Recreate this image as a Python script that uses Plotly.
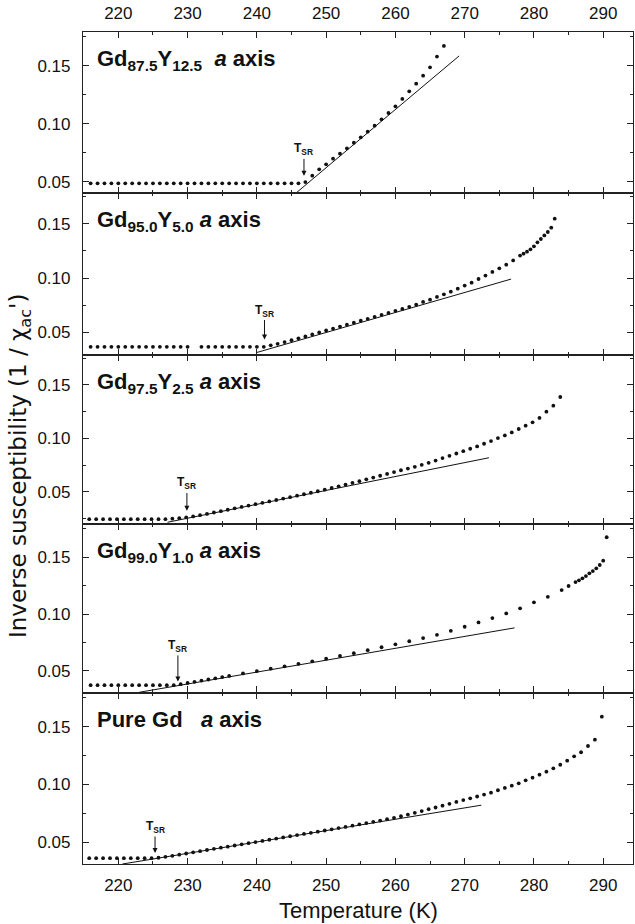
import plotly.graph_objects as go

# ---------------- data ----------------
panel_labels = [
    "<b>Gd<sub>87.5</sub>Y<sub>12.5</sub>\u00a0\u00a0<i>a</i> axis</b>",
    "<b>Gd<sub>95.0</sub>Y<sub>5.0</sub> <i>a</i> axis</b>",
    "<b>Gd<sub>97.5</sub>Y<sub>2.5</sub> <i>a</i> axis</b>",
    "<b>Gd<sub>99.0</sub>Y<sub>1.0</sub> <i>a</i> axis</b>",
    "<b>Pure Gd\u00a0\u00a0\u00a0<i>a</i> axis</b>",
]

# Gd87.5Y12.5
temp_p1 = [216, 217, 218, 219, 220, 221, 222, 223, 224, 225, 226, 227, 228, 229, 230,
           231, 232, 233, 234, 235, 236, 237, 238, 239, 240, 241, 242, 243, 244, 245, 246,
           247, 248, 249, 250, 251, 252, 253, 254, 255, 256, 257, 258, 259, 260, 261, 262,
           263, 264, 265, 266, 267]
chi_p1 = [0.0486, 0.0486, 0.0486, 0.0486, 0.0486, 0.0486, 0.0486, 0.0486, 0.0486, 0.0486,
          0.0486, 0.0486, 0.0486, 0.0486, 0.0486, 0.0486, 0.0486, 0.0486, 0.0486, 0.0486,
          0.0486, 0.0486, 0.0486, 0.0486, 0.0486, 0.0486, 0.0486, 0.0486, 0.0486, 0.0486,
          0.0486,
          0.0497, 0.0552, 0.0607, 0.0650, 0.0699, 0.0742, 0.0788, 0.0836, 0.0883, 0.0931,
          0.0983, 0.1038, 0.1092, 0.1150, 0.1213, 0.1279, 0.1345, 0.1414, 0.1486, 0.1578,
          0.1670]
fit_t_p1 = [245.6, 269.2]
fit_chi_p1 = [0.0400, 0.1584]

# Gd95.0Y5.0
temp_p2 = [216, 217, 218, 219, 220, 221, 222, 223, 224, 225, 226, 227, 228, 229, 230,
           232, 233, 234, 235, 236, 237, 238, 239, 240, 241,
           242, 243, 244, 245, 246, 247, 248, 249, 250, 251, 252, 253, 254, 255, 256, 257,
           258, 259, 260, 261, 262, 263, 264, 265, 266, 267, 268, 269, 270, 271, 272, 273,
           274, 275, 276, 277, 278, 278.5, 279, 279.5, 280, 280.5, 281, 281.5, 282, 282.5, 283]
chi_p2 = [0.0367, 0.0367, 0.0367, 0.0367, 0.0367, 0.0367, 0.0367, 0.0367, 0.0367, 0.0367,
          0.0367, 0.0367, 0.0367, 0.0367, 0.0367,
          0.0367, 0.0367, 0.0367, 0.0367, 0.0367, 0.0367, 0.0367, 0.0367, 0.0367, 0.0367,
          0.0381, 0.0395, 0.0411, 0.0428, 0.0445, 0.0463, 0.0481, 0.0499, 0.0517, 0.0535,
          0.0553, 0.0571, 0.0589, 0.0607, 0.0625, 0.0643, 0.0661, 0.0679, 0.0698, 0.0716,
          0.0735, 0.0755, 0.0780, 0.0801, 0.0826, 0.0850, 0.0874, 0.0902, 0.0930, 0.0957,
          0.0991, 0.1022, 0.1056, 0.1089, 0.1123, 0.1162, 0.1206, 0.1224, 0.1242, 0.1264,
          0.1291, 0.1328, 0.1359, 0.1392, 0.1423, 0.1463, 0.1546]
fit_t_p2 = [240.0, 276.7]
fit_chi_p2 = [0.0315, 0.0990]

# Gd97.5Y2.5
temp_p3 = [215.8, 216.8, 217.8, 218.8, 219.8, 220.8, 221.8, 222.8, 223.8, 224.8, 225.8,
           226.8, 227.8, 228.8, 229.8, 230.8, 231.8, 232.8, 233.8, 234.8, 235.8, 236.8,
           237.8, 238.8, 239.8, 240.8, 241.8, 242.8, 243.8, 244.8, 245.8, 246.8, 247.8,
           248.8, 249.8, 250.8, 251.8, 252.8, 253.8, 254.8, 255.8, 256.8, 257.8, 258.8,
           259.8, 260.8, 261.8, 262.8, 263.8, 264.8, 265.8, 266.8, 267.8, 268.8, 269.8,
           270.8, 271.8, 272.8, 273.8, 274.8, 275.8, 276.8, 277.8, 278.8, 279.8, 280.8,
           281.8, 282.8, 283.8]
chi_p3 = [0.0245, 0.0245, 0.0245, 0.0245, 0.0245, 0.0245, 0.0245, 0.0245, 0.0245, 0.0245,
          0.0245, 0.0245,
          0.0249, 0.0254, 0.0261, 0.0270, 0.0282, 0.0294, 0.0307, 0.0320, 0.0333, 0.0346,
          0.0359, 0.0372, 0.0385, 0.0398, 0.0411, 0.0424, 0.0437, 0.0450, 0.0464, 0.0478,
          0.0492, 0.0506, 0.0521, 0.0536, 0.0552, 0.0568, 0.0584, 0.0600, 0.0617, 0.0634,
          0.0651, 0.0668, 0.0685, 0.0702, 0.0718, 0.0734, 0.0753, 0.0772, 0.0793, 0.0816,
          0.0837, 0.0859, 0.0881, 0.0903, 0.0925, 0.0950, 0.0975, 0.1003, 0.1028, 0.1056,
          0.1088, 0.1119, 0.1150, 0.1191, 0.1250, 0.1306, 0.1387]
fit_t_p3 = [227.1, 273.5]
fit_chi_p3 = [0.0216, 0.0819]

# Gd99.0Y1.0
temp_p4 = [216, 217, 218, 219, 220, 221, 222, 223, 224, 225, 226, 227, 228,
           229, 230, 231, 232, 233, 234, 235, 236,
           238, 240, 242, 244, 246, 248, 250, 252, 254, 256, 258, 260, 262, 264, 266, 268,
           270, 272, 274, 276, 278, 280, 282, 284,
           285, 286, 286.5, 287, 287.5, 288, 288.5, 289, 289.5, 290, 290.5]
chi_p4 = [0.0373, 0.0373, 0.0373, 0.0373, 0.0373, 0.0373, 0.0373, 0.0373, 0.0373, 0.0373,
          0.0373, 0.0373, 0.0373,
          0.0382, 0.0392, 0.0402, 0.0413, 0.0423, 0.0433, 0.0444, 0.0454,
          0.0476, 0.0497, 0.0518, 0.0539, 0.0561, 0.0583, 0.0606, 0.0630, 0.0655, 0.0681,
          0.0707, 0.0733, 0.0760, 0.0788, 0.0817, 0.0852, 0.0888, 0.0926, 0.0964, 0.1005,
          0.1050, 0.1103, 0.1152, 0.1211,
          0.1247, 0.1282, 0.1297, 0.1315, 0.1335, 0.1359, 0.1379, 0.1403, 0.1432, 0.1470,
          0.1677]
fit_t_p4 = [223.0, 277.2]
fit_chi_p4 = [0.0310, 0.0878]

# Pure Gd
temp_p5 = [215.8, 216.8, 217.8, 218.8, 219.8, 220.8, 221.8, 222.8, 223.8, 224.8, 225.8,
           226.8, 227.8, 228.8, 229.8, 230.8, 231.8, 232.8, 233.8, 234.8, 235.8, 236.8,
           237.8, 238.8, 239.8, 240.8, 241.8, 242.8, 243.8, 244.8, 245.8, 246.8, 247.8,
           248.8, 249.8, 250.8, 251.8, 252.8, 253.8, 254.8, 255.8, 256.8, 257.8, 258.8,
           259.8, 260.8, 261.8, 262.8, 263.8, 264.8, 265.8, 266.8, 267.8, 268.8, 269.8,
           270.8, 271.8, 272.8, 273.8, 274.8, 275.8, 276.8, 277.8, 278.8, 279.8, 280.8,
           281.8, 282.8, 283.8, 284.8, 285.8, 286.8, 287.8, 288.8, 289.8]
chi_p5 = [0.0362, 0.0362, 0.0362, 0.0362, 0.0362, 0.0362, 0.0362, 0.0362, 0.0362, 0.0362,
          0.0366, 0.0374, 0.0383, 0.0393, 0.0403, 0.0413, 0.0423, 0.0433, 0.0443, 0.0453,
          0.0462, 0.0472, 0.0482, 0.0492, 0.0502, 0.0512, 0.0522, 0.0532, 0.0542, 0.0552,
          0.0562, 0.0572, 0.0582, 0.0592, 0.0602, 0.0612, 0.0623, 0.0633, 0.0644, 0.0655,
          0.0666, 0.0677, 0.0688, 0.0700, 0.0712, 0.0725, 0.0740, 0.0755, 0.0770, 0.0786,
          0.0801, 0.0817, 0.0833, 0.0849, 0.0865, 0.0880, 0.0896, 0.0913, 0.0929, 0.0950,
          0.0970, 0.0990, 0.1010, 0.1036, 0.1059, 0.1085, 0.1111, 0.1140, 0.1171, 0.1206,
          0.1244, 0.1279, 0.1333, 0.1388, 0.1587]
fit_t_p5 = [220.6, 272.4]
fit_chi_p5 = [0.0312, 0.0821]

tsr_temp = [246.8, 241.1, 229.9, 228.6, 225.3]
tsr_chi = [0.0486, 0.0367, 0.0258, 0.0378, 0.0364]

x_ticks = [220, 230, 240, 250, 260, 270, 280, 290]
x_minor = [225, 235, 245, 255, 265, 275, 285]
y_ticks = [0.05, 0.10, 0.15]
y_minor = [0.025, 0.075, 0.125, 0.175]

# ---------------- layout settings ----------------
FONT = "Liberation Sans, Arial, Helvetica, sans-serif"
YFONT = "DejaVu Sans, Liberation Sans, sans-serif"
x_range = [214.9, 294.3]
y_ranges = [[0.0403, 0.1790], [0.0292, 0.1782], [0.0200, 0.1780],
            [0.0308, 0.1794], [0.0312, 0.1796]]
y_domains = [[0.8065, 1.0], [0.6118, 0.8065], [0.4087, 0.6118],
             [0.2061, 0.4087], [0.0, 0.2061]]
arrow_gap = [7.6, 7.3, 7.0, 3.0, 5.0]
arrow_len = [17.4, 20.0, 18.3, 26.7, 17.0]

temps = [temp_p1, temp_p2, temp_p3, temp_p4, temp_p5]
chis = [chi_p1, chi_p2, chi_p3, chi_p4, chi_p5]
fit_ts = [fit_t_p1, fit_t_p2, fit_t_p3, fit_t_p4, fit_t_p5]
fit_chis = [fit_chi_p1, fit_chi_p2, fit_chi_p3, fit_chi_p4, fit_chi_p5]

AX = "#222222"
TXT = "#111111"
fig = go.Figure()
annotations = []
layout = {}

for i in range(5):
    n = "" if i == 0 else str(i + 1)
    xa, ya = "x" + n, "y" + n
    fig.add_trace(go.Scatter(x=fit_ts[i], y=fit_chis[i], mode="lines",
                             line=dict(color=TXT, width=1),
                             xaxis=xa, yaxis=ya, showlegend=False, hoverinfo="skip"))
    fig.add_trace(go.Scatter(x=temps[i], y=chis[i], mode="markers",
                             marker=dict(color=TXT, size=3.8, line=dict(width=0)),
                             xaxis=xa, yaxis=ya, showlegend=False))
    layout["xaxis" + n] = dict(
        domain=[0, 1], anchor=ya, range=x_range,
        tickmode="array", tickvals=x_ticks, ticktext=[str(v) for v in x_ticks],
        ticks="inside", ticklen=6, tickwidth=1.2, tickcolor=AX,
        minor=dict(tickmode="array", tickvals=x_minor,
                   ticks="inside", ticklen=3, tickwidth=1.2, tickcolor=AX),
        showline=True, linecolor=AX, linewidth=1.2, mirror="allticks",
        showgrid=False, zeroline=False,
        showticklabels=(i == 0 or i == 4),
        side="top" if i == 0 else "bottom",
        ticklabelstandoff=5,
        tickfont=dict(family=FONT, size=17, color=TXT),
    )
    layout["yaxis" + n] = dict(
        domain=y_domains[i], anchor=xa, range=y_ranges[i],
        tickmode="array", tickvals=y_ticks, ticktext=["0.05", "0.10", "0.15"],
        ticks="inside", ticklen=6, tickwidth=1.2, tickcolor=AX,
        minor=dict(tickmode="array", tickvals=y_minor,
                   ticks="inside", ticklen=3, tickwidth=1.2, tickcolor=AX),
        showline=True, linecolor=AX, linewidth=1.2, mirror="allticks",
        showgrid=False, zeroline=False, ticklabelstandoff=8,
        tickfont=dict(family=FONT, size=17, color=TXT),
    )
    # panel title
    annotations.append(dict(
        text=panel_labels[i], xref=xa + " domain", yref=ya + " domain",
        x=0.026, y=1, xanchor="left", yanchor="top", xshift=-2, yshift=-12,
        showarrow=False, font=dict(family=FONT, size=22, color=TXT)))
    # T_SR label with arrow
    annotations.append(dict(
        text="<b>T<sub>SR</sub></b>", x=tsr_temp[i], y=tsr_chi[i], xref=xa, yref=ya,
        ax=0, ay=-(arrow_gap[i] + arrow_len[i] + 9), showarrow=True,
        arrowhead=2, arrowsize=1, arrowwidth=1, arrowcolor=TXT,
        standoff=arrow_gap[i],
        font=dict(family=FONT, size=12, color=TXT)))

annotations.append(dict(
    text="Temperature (K)", xref="paper", yref="paper", x=0.5, y=-0.0553,
    xanchor="center", yanchor="middle", showarrow=False,
    font=dict(family=FONT, size=22, color=TXT)))
annotations.append(dict(
    text="Inverse susceptibility (1 / \u03c7<sub>ac</sub>')", xref="paper", yref="paper",
    x=-0.1145, y=0.4784, xanchor="center", yanchor="middle", textangle=-90,
    showarrow=False, font=dict(family=YFONT, size=23, color=TXT)))

fig.update_layout(
    width=635, height=924,
    margin=dict(l=83, r=2, t=32, b=60),
    paper_bgcolor="white", plot_bgcolor="white",
    annotations=annotations, showlegend=False,
    **layout,
)

fig.write_html("out.html", config={"displayModeBar": False},
               post_script="document.body.style.margin='0';document.body.style.padding='0';")
